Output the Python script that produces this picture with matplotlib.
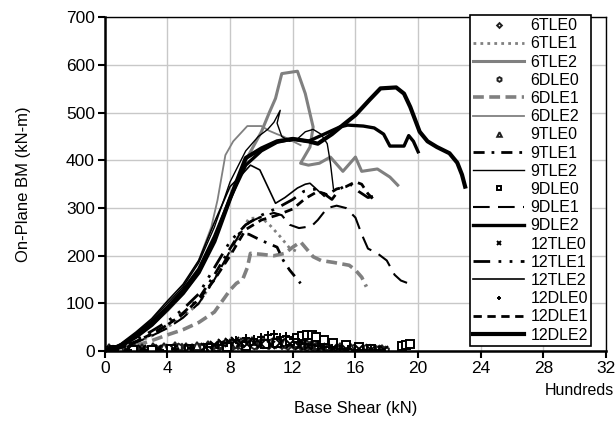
import matplotlib
matplotlib.use('Agg')
import matplotlib.pyplot as plt

plt.rcParams['font.family'] = ['Liberation Sans', 'DejaVu Sans']

GRAY = '#808080'

# ---- curves (base shear in hundreds of kN, BM in kN-m) ----
x_6tle1 = [0, 1, 2, 3, 4, 5, 6, 7, 8, 8.6, 9.2, 10.0, 10.6, 11.2, 11.8, 12.2]
y_6tle1 = [0, 6, 18, 32, 50, 72, 100, 150, 205, 245, 278, 280, 262, 240, 216, 210]

x_6tle2 = [0, 1, 2, 3, 4, 5, 6, 7, 8, 9, 10, 10.5, 10.9, 11.3, 12.3, 12.8, 13.3, 13.1, 12.5,
           13.0, 13.7, 14.4, 15.2, 16.0, 16.4, 17.4, 18.2, 18.7]
y_6tle2 = [0, 10, 30, 55, 85, 120, 165, 235, 320, 400, 460, 500, 530, 582, 587, 540, 470, 428, 394,
           390, 394, 407, 377, 407, 377, 382, 365, 348]

x_6dle1 = [0, 1, 2, 3, 4, 5, 6, 7, 7.5, 8, 8.4, 8.8, 9.1, 9.3, 10, 10.8, 11.5, 12.0, 12.5,
           13.3, 13.8, 14.6, 15.6, 16.0, 16.4, 16.7]
y_6dle1 = [0, 4, 12, 22, 34, 45, 60, 82, 105, 128, 142, 150, 175, 205, 203, 200, 205, 218, 229,
           198, 190, 186, 180, 170, 155, 135]

x_6dle2 = [0, 1, 2, 3, 4, 5, 6, 6.8, 7.2, 7.7, 8.2, 9.1, 10.0, 10.5, 11.0, 11.4, 12.0, 12.5]
y_6dle2 = [0, 12, 35, 62, 95, 135, 190, 260, 317, 411, 440, 472, 472, 462, 455, 450, 440, 432]

x_9tle1 = [0, 1, 2, 3, 4, 5, 6, 7, 8, 8.6, 9.2, 10, 11.0, 11.4, 11.8, 12.5]
y_9tle1 = [0, 6, 20, 35, 55, 80, 110, 160, 215, 247, 245, 232, 218, 190, 170, 142]

x_9tle2 = [0, 1, 2, 3, 4, 5, 6, 7, 8, 9, 9.8, 10.4, 10.8, 11.2, 11.0, 11.3, 11.8, 12.3, 12.8,
           13.3, 13.8, 14.2, 14.4, 14.6]
y_9tle2 = [0, 14, 38, 65, 100, 135, 185, 260, 355, 420, 450, 465, 480, 505, 478, 450, 440, 445, 460,
           465, 455, 435, 395, 340]

x_9dle1 = [0, 1, 2, 3, 4, 5, 6, 7, 8, 8.6, 9.2, 10, 10.8, 11.3, 11.8, 12.4, 13.2, 13.6, 14.2,
           14.8, 15.4, 16.0, 16.4, 16.8, 17.4, 18.0, 18.5, 18.9, 19.3]
y_9dle1 = [0, 6, 18, 32, 48, 70, 100, 150, 210, 245, 270, 282, 290, 285, 265, 258, 262, 275, 300,
           305, 300, 280, 245, 215, 205, 190, 160, 148, 143]

x_9dle2 = [0, 1, 2, 3, 4, 5, 6, 7, 8, 9, 10, 11, 12, 13, 14, 15, 15.5, 16.5, 17.2, 17.8,
           18.2, 19.1, 19.4, 19.7, 20]
y_9dle2 = [0, 12, 34, 60, 92, 128, 172, 240, 320, 390, 420, 438, 445, 440, 455, 470, 474, 472,
           468, 455, 430, 430, 452, 440, 418]

x_12tle1 = [0, 1, 2, 3, 4, 5, 6, 7, 8, 9, 10, 11, 12, 12.7, 13.5, 14.0, 14.5, 15.0, 15.6,
            16.2, 16.8, 17.2]
y_12tle1 = [0, 8, 24, 42, 62, 88, 120, 175, 230, 265, 285, 300, 318, 335, 340, 330, 318, 340,
            352, 335, 322, 325]

x_12tle2 = [0, 1, 2, 3, 4, 5, 6, 7, 8, 8.8, 9.3, 9.9, 10.4, 10.9, 11.5, 12.3, 12.8, 13.1,
            13.5, 14.0]
y_12tle2 = [0, 15, 40, 68, 105, 140, 190, 270, 345, 372, 390, 380, 345, 310, 322, 342, 350, 352,
            340, 325]

x_12dle1 = [0, 1, 2, 3, 4, 5, 6, 7, 8, 9, 10, 11, 12, 12.8, 13.6, 14.2, 14.8, 15.4, 16.0,
            16.4, 16.8, 17.1]
y_12dle1 = [0, 7, 20, 36, 55, 78, 108, 150, 200, 255, 275, 285, 298, 320, 335, 328, 340, 345,
            355, 350, 330, 320]

x_12dle2 = [0, 1, 2, 3, 4, 5, 6, 7, 8, 9, 10, 11, 12, 13, 13.6, 14.5, 15.2, 16, 16.9, 17.6,
            18.6, 19.1, 19.5, 20.1, 20.6, 21.2, 22.0, 22.5, 22.8, 23.0]
y_12dle2 = [0, 10, 30, 55, 88, 122, 165, 230, 320, 405, 425, 440, 445, 440, 435, 455, 474, 495,
            527, 551, 553, 540, 512, 460, 440, 428, 415, 395, 370, 345]

# ---- scattered points close to zero ----
x_6tle0 = [0.1, 0.5, 0.9, 1.3, 1.7, 2.1, 2.5, 2.9, 3.3, 3.7, 4.1, 4.5, 4.9, 5.3, 5.7, 6.1,
           6.5, 6.9, 7.3, 7.7, 8.1, 8.5, 8.9, 9.3, 9.7, 10.1, 10.5, 10.9, 11.3, 11.7, 12.1,
           12.5, 12.9, 13.3, 13.7, 14.1, 14.5, 14.9, 15.3, 15.7, 16.1, 16.5, 16.9, 17.3, 17.7]
y_6tle0 = [1, 2, 1, 3, 2, 4, 3, 2, 4, 5, 3, 4, 6, 5, 4, 7, 8, 6, 9, 10, 8, 12, 11, 14, 13,
           15, 12, 14, 13, 11, 12, 10, 9, 8, 9, 7, 6, 5, 6, 4, 5, 3, 4, 3, 2]

x_6dle0 = [0.3, 0.7, 1.1, 1.5, 1.9, 2.3, 2.7, 3.1, 3.5, 3.9, 4.3, 4.7, 5.1, 5.5, 5.9, 6.3,
           6.7, 7.1, 7.5, 7.9, 8.3, 8.7, 9.1, 9.5, 9.9, 10.3, 10.7, 11.1, 11.5, 11.9, 12.3,
           12.7, 13.1, 13.5, 13.9, 14.3, 14.7, 15.1, 15.5, 15.9, 16.3, 16.7, 17.1, 17.5, 17.9]
y_6dle0 = [4, 3, 5, 4, 6, 5, 3, 6, 5, 7, 6, 8, 5, 7, 9, 8, 10, 9, 12, 11, 14, 13, 16, 12,
           18, 16, 20, 17, 15, 18, 14, 13, 12, 10, 11, 8, 9, 7, 6, 7, 5, 6, 4, 5, 3]

x_9tle0 = [0.3, 1.0, 1.7, 2.4, 3.1, 3.8, 4.5, 5.2, 5.9, 6.6, 7.3, 8.0, 8.7, 9.4, 10.1, 10.8,
           11.5, 12.2, 12.9, 13.6, 14.3, 15.0, 15.7, 16.4, 17.1, 17.7]
y_9tle0 = [6, 7, 8, 7, 9, 8, 10, 9, 11, 12, 14, 17, 20, 22, 24, 21, 19, 18, 15, 13, 10, 8, 7, 6, 5, 5]

x_9dle0 = [0.6, 1.8, 3.0, 4.2, 5.4, 6.6, 7.8, 9.0, 10.2, 11.0, 11.8, 12.3, 12.6, 12.9, 13.2,
           13.5, 14.0, 14.6, 15.4, 16.2, 17.0, 19.0, 19.2, 19.5]
y_9dle0 = [2, 3, 3, 4, 5, 6, 8, 10, 14, 18, 22, 28, 32, 34, 33, 30, 24, 18, 12, 8, 5, 10, 12, 14]

x_12tle0 = [0.4, 1.4, 2.4, 3.4, 4.4, 5.4, 6.4, 7.0, 7.5, 7.9, 8.3, 8.7, 9.1, 9.5, 10.0, 10.6,
            11.2, 11.8, 12.4, 13.0, 13.8, 14.6, 15.4, 16.2, 17.0, 17.8]
y_12tle0 = [2, 3, 4, 4, 5, 7, 9, 12, 16, 20, 22, 18, 15, 17, 14, 12, 16, 14, 11, 10, 8, 6, 5, 4, 3, 2]

x_12dle0 = [0.5, 1.5, 2.5, 3.5, 4.5, 5.5, 6.5, 7.2, 7.8, 8.4, 9.0, 9.5, 10.0, 10.4, 10.8, 11.2,
            11.6, 12.0, 12.4, 12.8, 13.2, 13.6, 14.0, 14.5, 15.0, 15.5, 16.0, 16.5, 17.0, 17.5]
y_12dle0 = [1, 2, 3, 3, 5, 6, 8, 12, 18, 24, 28, 25, 30, 33, 35, 30, 32, 25, 20, 15, 12, 10, 8, 6,
            5, 4, 3, 3, 2, 2]

fig = plt.figure(figsize=(6.16, 4.23), dpi=100)
ax = fig.add_axes([0.170, 0.170, 0.814, 0.789])

mk = dict(linestyle='none', markersize=5.5, markerfacecolor='white', markeredgewidth=1.4)

ax.plot(x_6tle0, y_6tle0, marker='D', color='#202020', label='6TLE0', linestyle='none',
        markersize=4, markerfacecolor='white', markeredgewidth=1.4)
ax.plot(x_6tle1, y_6tle1, color=GRAY, lw=2, linestyle=(0, (1, 1.5)), label='6TLE1')
ax.plot(x_6tle2, y_6tle2, color=GRAY, lw=2.2, label='6TLE2')
ax.plot(x_6dle0, y_6dle0, marker='h', color='#202020', label='6DLE0', **mk)
ax.plot(x_6dle1, y_6dle1, color=GRAY, lw=2.6, linestyle=(0, (3, 1.5)), label='6DLE1')
ax.plot(x_6dle2, y_6dle2, color=GRAY, lw=1.3, label='6DLE2')
ax.plot(x_9tle0, y_9tle0, marker='^', color='#202020', label='9TLE0', **mk)
ax.plot(x_9tle1, y_9tle1, color='black', lw=2, linestyle=(0, (4, 2.5, 1, 2.5)), label='9TLE1')
ax.plot(x_9tle2, y_9tle2, color='black', lw=1, label='9TLE2')
ax.plot(x_9dle0, y_9dle0, marker='s', color='black', label='9DLE0', **mk)
ax.plot(x_9dle1, y_9dle1, color='black', lw=1.5, linestyle=(0, (8, 4)), label='9DLE1')
ax.plot(x_9dle2, y_9dle2, color='black', lw=2.4, label='9DLE2')
ax.plot(x_12tle0, y_12tle0, marker='x', color='black', label='12TLE0', **mk)
ax.plot(x_12tle1, y_12tle1, color='black', lw=2, linestyle=(0, (6, 3, 1, 3, 1, 3)), label='12TLE1')
ax.plot(x_12tle2, y_12tle2, color='black', lw=1.2, label='12TLE2')
ax.plot(x_12dle0, y_12dle0, marker='+', color='black', label='12DLE0', **mk)
ax.plot(x_12dle1, y_12dle1, color='black', lw=2, linestyle=(0, (3, 2)), label='12DLE1')
ax.plot(x_12dle2, y_12dle2, color='black', lw=3, label='12DLE2')

ax.set_xlim(0, 32)
ax.set_ylim(0, 700)
ax.set_xticks(range(0, 33, 4))
ax.set_yticks(range(0, 701, 100))
ax.grid(True, color='#c8c8c8', lw=1)
ax.set_axisbelow(True)
for s in ['left', 'bottom']:
    ax.spines[s].set_linewidth(1.8)
ax.spines['top'].set_linewidth(1.0)
ax.spines['right'].set_linewidth(1.0)
ax.tick_params(direction='out', length=5, width=1.5, labelsize=12.5, pad=2)

ax.set_xlabel('Base Shear (kN)', fontsize=12, labelpad=18)
ax.set_ylabel('On-Plane BM (kN-m)', fontsize=12, labelpad=25)
fig.text(0.997, 1 - 390 / 423, 'Hundreds', ha='right', va='center', fontsize=11.5)

leg = ax.legend(loc='upper left', bbox_to_anchor=(470 / 616, 1 - 15 / 423),
                bbox_transform=fig.transFigure, fontsize=11.5, frameon=True,
                fancybox=False, framealpha=1, edgecolor='black', borderaxespad=0,
                borderpad=0.2, labelspacing=0.2, handlelength=3.2, handletextpad=0.4,
                numpoints=1, markerscale=0.6)
leg.get_frame().set_linewidth(1.2)

fig.savefig('out.png', dpi=100)
